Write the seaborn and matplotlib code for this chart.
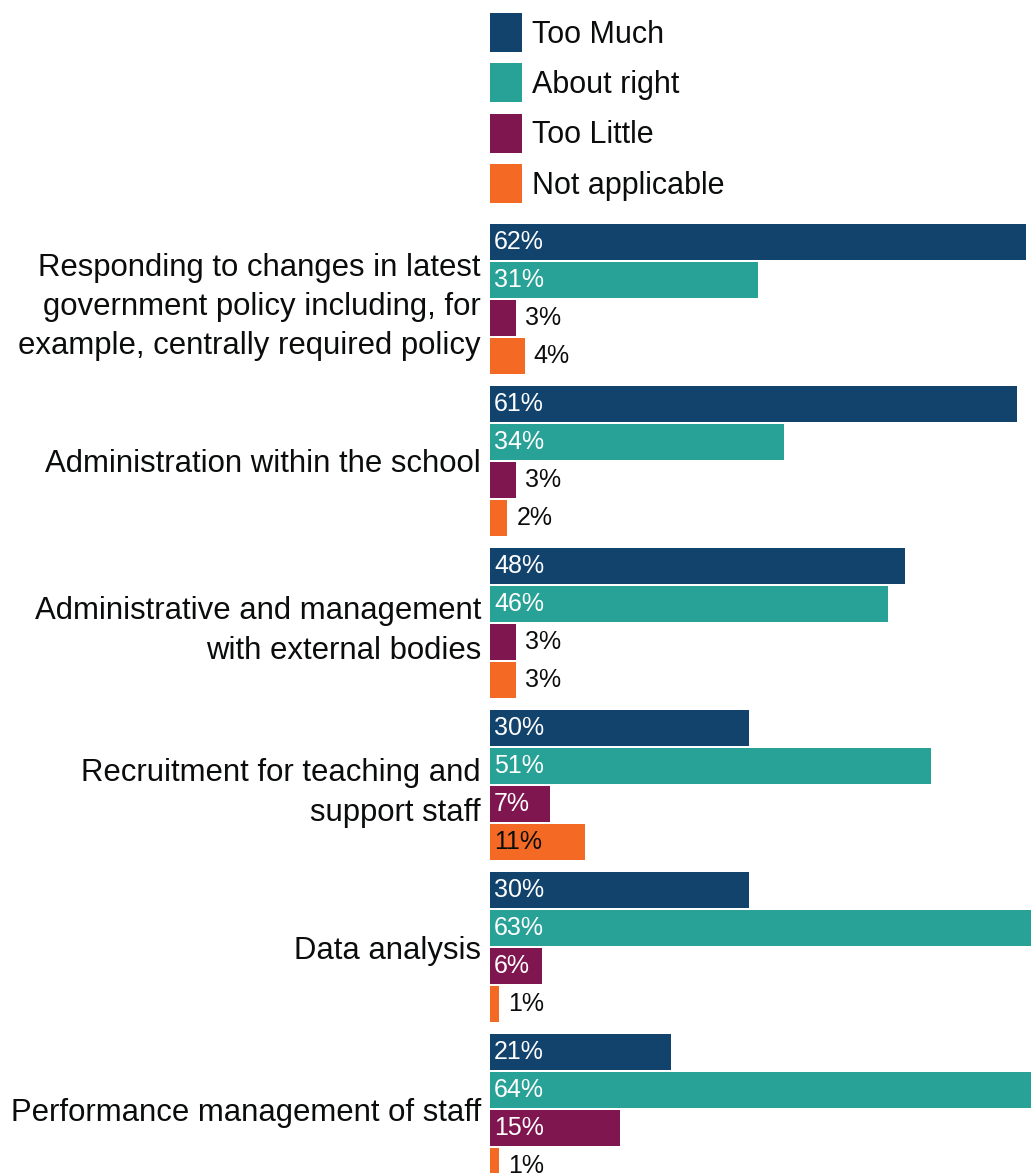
import matplotlib
matplotlib.use("Agg")
import matplotlib.pyplot as plt
import pandas as pd
import seaborn as sns

categories = [
    "Responding to changes in latest\ngovernment policy including, for\nexample, centrally required policy",
    "Administration within the school",
    "Administrative and management\nwith external bodies",
    "Recruitment for teaching and\nsupport staff",
    "Data analysis",
    "Performance management of staff",
]
series_names = ["Too Much", "About right", "Too Little", "Not applicable"]
too_much = [62, 61, 48, 30, 30, 21]
about_right = [31, 34, 46, 51, 63, 64]
too_little = [3, 3, 3, 7, 6, 15]
not_applicable = [4, 2, 3, 11, 1, 1]
colors = ["#12436D", "#28A197", "#801650", "#F46A25"]

rows = []
for name, vals in zip(series_names, [too_much, about_right, too_little, not_applicable]):
    for cat, v in zip(categories, vals):
        rows.append({"category": cat, "response": name, "value": v})
df = pd.DataFrame(rows)

sns.set_style("white")
plt.rcParams["font.family"] = ["Liberation Sans", "DejaVu Sans"]
ink = "#0b0c0c"

W, H = 1031, 1173
fig = plt.figure(figsize=(W / 100, H / 100), dpi=100)
ax = fig.add_axes([490 / W, 0, 1 - 490 / W, 1 - 210 / H])

sns.barplot(
    data=df, y="category", x="value", hue="response",
    order=categories, hue_order=series_names, palette=colors,
    orient="h", width=152 / 162, gap=0.053, saturation=1,
    linewidth=0, ax=ax,
)

ax.set_xlim(0, 62.6)
ax.set_ylim((1173 - 299) / 162, (210 - 299) / 162)
ax.set_xlabel("")
ax.set_ylabel("")
ax.set_xticks([])
sns.despine(ax=ax, left=True, bottom=True, top=True, right=True)
ax.tick_params(axis="y", length=0, pad=6.5, labelsize=22.4, labelcolor=ink)
for lbl in ax.get_yticklabels():
    lbl.set_linespacing(1.4)

# value labels: inside the bar for larger values, outside for small ones
text_colors = ["white", "white", "white", ink]
for container, tcol in zip(ax.containers, text_colors):
    for patch in container.patches:
        v = patch.get_width()
        yc = patch.get_y() + patch.get_height() / 2
        if v >= 5:
            ax.annotate(f"{v:.0f}%", (0, yc), xytext=(3, 0), textcoords="offset points",
                        ha="left", va="center", color=tcol, fontsize=18)
        else:
            ax.annotate(f"{v:.0f}%", (v, yc), xytext=(6.5, 0), textcoords="offset points",
                        ha="left", va="center", color=ink, fontsize=18)

handles, labels = ax.get_legend_handles_labels()
if ax.get_legend() is not None:
    ax.get_legend().remove()
fs_px = 22 / 0.72
leg = fig.legend(
    handles, labels, loc="upper left",
    bbox_to_anchor=(490 / W, 1 - 13 / H), bbox_transform=fig.transFigure,
    frameon=False, fontsize=22, borderpad=0, borderaxespad=0,
    handlelength=32 / fs_px, handleheight=1.585,
    labelspacing=11.5 / fs_px, handletextpad=10 / fs_px,
)
for t in leg.get_texts():
    t.set_color(ink)

fig.savefig("out.png", dpi=100)
